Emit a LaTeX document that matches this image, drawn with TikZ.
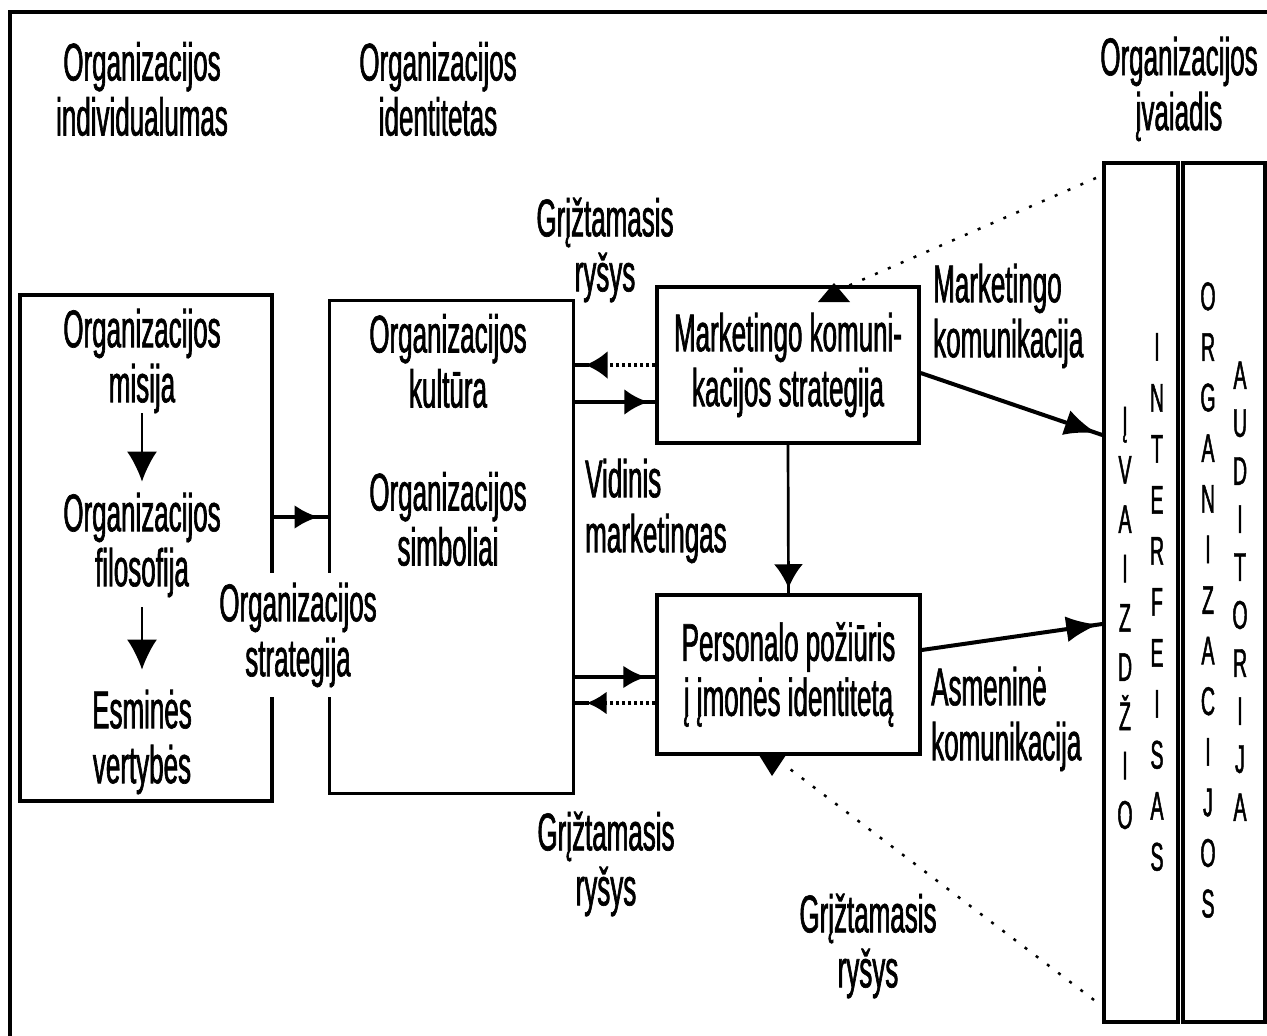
\documentclass[tikz,border=0pt]{standalone}
\usepackage{fontspec}
\setmainfont{Liberation Sans}[FakeStretch=0.49,FakeBold=1.2]
\usetikzlibrary{arrows.meta,decorations.markings}

\begin{document}
\begin{tikzpicture}[x=1pt,y=-1pt,
  lbl/.style={font=\fontsize{53}{55}\selectfont, align=center, inner sep=0pt},
  lbll/.style={lbl, align=left, anchor=west},
  box/.style={draw, line width=3.5pt, inner sep=0pt, font=\fontsize{53}{55}\selectfont, align=center},
  col/.style={font=\fontsize{40}{#1}\selectfont, align=center, inner sep=0pt},
  solidcon/.style={line width=4pt},
  dotcon/.style={line width=3.5pt, dash pattern=on 3pt off 3pt},
  longdot/.style={line width=2.5pt, dash pattern=on 3pt off 11pt},
  thinarrow/.style={line width=2pt, -{Latex[length=30pt,width=30pt]}},
  head/.style n args={3}{postaction={decorate},
    decoration={markings, mark=at position #1 with {\arrow{Latex[length=#2,width=#3]}}}},
]
\useasboundingbox (0,0) rectangle (1267,1036);

% outer frame (top and left edges)
\draw[line width=4pt] (9.5,1036) -- (9.5,12) -- (1267,12);

% boxes
\node[box, minimum width=252pt, minimum height=506pt] (lb) at (146,548) {};
\node[box, line width=3pt, minimum width=244pt, minimum height=493pt] (mb) at (451,546.5) {};
\node[box, minimum width=262pt, minimum height=156pt] (mk) at (788,365)
  {Marketingo komuni-\\kacijos strategija};
\node[box, minimum width=263pt, minimum height=159pt] (pp) at (788.5,674.5)
  {Personalo požiūris\\į įmonės identitetą};
\node[box, minimum width=74pt, minimum height=859pt] (rb1) at (1141,592.5) {};
\node[box, minimum width=82pt, minimum height=859pt] (rb2) at (1224,592.5) {};

% column headings
\node[lbl] (h1) at (142,89) {Organizacijos\\individualumas};
\node[lbl] (h2) at (438,89) {Organizacijos\\identitetas};
\node[lbl] (h3) at (1179,89) {Organizacijos\\įvaiadis};

% contents of the left box
\node[lbl] (mis) at (142,361) {Organizacijos\\misija};
\node[lbl] (fil) at (142,545) {Organizacijos\\filosofija};
\node[lbl] (ess) at (142,742) {Esminės\\vertybės};

% contents of the middle box
\node[lbl] (kul) at (448,361) {Organizacijos\\kultūra};
\node[lbl] (sim) at (448,519) {Organizacijos\\simboliai};

% strategy label, breaking the box sides behind it
\node[lbl, fill=white, inner ysep=10pt] (str) at (298,635) {Organizacijos\\strategija};

% connector labels
\node[lbl] (fb1) at (605,250) {Grįžtamasis\\ryšys};
\node[lbll] (vid) at (585,511) {Vidinis\\marketingas};
\node[lbll] (mkk) at (933,316) {Marketingo\\komunikacija};
\node[lbll] (ask) at (931,719) {Asmeninė\\komunikacija};
\node[lbl] (fb2) at (606,864) {Grįžtamasis\\ryšys};
\node[lbl] (fb3) at (868,946) {Grįžtamasis\\ryšys};

% vertical lettering in the right boxes
\node[col=49.3pt] (c1) at (1125,618) {Į\\V\\A\\I\\Z\\D\\Ž\\I\\O};
\node[col=51pt] (c2) at (1157,602) {I\\N\\T\\E\\R\\F\\E\\I\\S\\A\\S};
\node[col=50.6pt] (c3) at (1208,600) {O\\R\\G\\A\\N\\I\\Z\\A\\C\\I\\J\\O\\S};
\node[col=48pt] (c4) at (1240,591) {A\\U\\D\\I\\T\\O\\R\\I\\J\\A};

% arrows inside the left box
\draw[thinarrow, shorten >=11pt] (mis) -- (fil);
\draw[thinarrow, shorten <=10pt, shorten >=20pt] (fil) -- (ess);

% left box to middle box
\draw[solidcon, head={-9pt}{24pt}{24pt}] (lb.east |- 0,517) -- (mb.west |- 0,517);

% middle box <-> marketing strategy
\draw[dotcon, head={-11pt}{22pt}{28pt}] (mk.west |- 0,365) -- (mb.east |- 0,365);
\draw[solidcon] (mb.east |- 0,365) -- ++(11,0);
\draw[solidcon, head={-7pt}{24pt}{26pt}] (mb.east |- 0,402) -- (mk.west |- 0,402);

% middle box <-> personnel attitude
\draw[solidcon, head={-9pt}{23pt}{23pt}] (mb.east |- 0,677) -- (pp.west |- 0,677);
\draw[dotcon, head={-12pt}{20pt}{23pt}] (pp.west |- 0,703) -- (mb.east |- 0,703);
\draw[solidcon] (mb.east |- 0,703) -- ++(12,0);

% marketing strategy to personnel attitude
\draw[line width=2.7pt, head={-5pt}{24pt}{29pt}] (mk.south) -- (pp.north);

% communication towards the image boxes
\draw[solidcon, head={-6pt}{32pt}{26pt}] (mk.east |- 0,373) -- (rb1.west |- 0,435);
\draw[solidcon, head={-4pt}{32pt}{26pt}] (pp.east |- 0,650) -- (rb1.west |- 0,624);

% long feedback lines from the image boxes
\coordinate (fa) at (1096,178);
\coordinate (fb) at (1094,1000);
\coordinate (ma) at (848,286);
\coordinate (mb2) at (786,766);
\draw[longdot] (fa) -- (ma);
\draw[longdot] (fb) -- (mb2);
\fill (818,302) -- (834,283) -- (850,302) -- cycle;
\fill (759,755) -- (786,755) -- (772,776) -- cycle;
\end{tikzpicture}
\end{document}
